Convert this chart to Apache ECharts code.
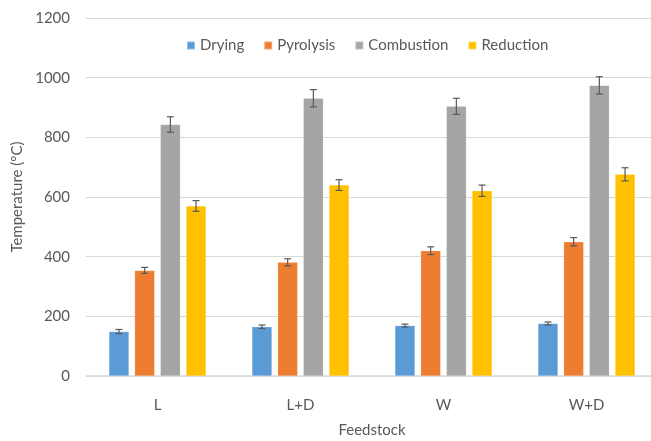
<!DOCTYPE html>
<html>
<head>
<meta charset="utf-8">
<script src="https://cdn.jsdelivr.net/npm/echarts@6/dist/echarts.min.js"></script>
<style>
html,body{margin:0;padding:0;background:#fff;}
#chart{width:651px;height:441px;}
</style>
</head>
<body>
<div id="chart"></div>
<script>
const categories = ['L', 'L+D', 'W', 'W+D'];
const seriesNames = ['Drying', 'Pyrolysis', 'Combustion', 'Reduction'];
const drying = [149, 165, 169, 176];
const pyrolysis = [354, 381, 420, 450];
const combustion = [843, 931, 904, 974];
const reduction = [570, 640, 621, 676];
const dryingErr = [7, 6, 5, 5];
const pyrolysisErr = [10, 12, 13, 14];
const combustionErr = [26, 29, 27, 29];
const reductionErr = [18, 18, 19, 22];
const yTicks = [0, 200, 400, 600, 800, 1000, 1200];

const colors = ['#5B9BD5', '#ED7D31', '#A5A5A5', '#FFC000'];
const values = [drying, pyrolysis, combustion, reduction];
const errors = [dryingErr, pyrolysisErr, combustionErr, reductionErr];

const BAR_W = 20, BAR_GAP = 5.7;
const FONT = 'Lato, "Open Sans", sans-serif';
const TXT = '#595959';

const chart = echarts.init(document.getElementById('chart'), null, {renderer: 'canvas'});

const barSeries = seriesNames.map((n, i) => ({
  name: n,
  type: 'bar',
  data: values[i],
  barWidth: BAR_W,
  barGap: (BAR_GAP / BAR_W * 100) + '%',
  itemStyle: {color: colors[i], borderColor: 'rgba(255,255,255,0.35)', borderWidth: 0.5},
  z: 2
}));

const errSeries = seriesNames.map((n, i) => ({
  name: n + ' error',
  type: 'custom',
  z: 5,
  silent: true,
  data: categories.map((c, k) => [k, values[i][k], errors[i][k]]),
  renderItem: function (params, api) {
    const x = api.value(0), v = api.value(1), e = api.value(2);
    const top = api.coord([x, v + e]);
    const bot = api.coord([x, v - e]);
    const cx = top[0] + (i - 1.5) * (BAR_W + BAR_GAP);
    const st = {stroke: '#595959', lineWidth: 1.2};
    const cap = 3.5;
    return {
      type: 'group',
      children: [
        {type: 'line', shape: {x1: cx, y1: top[1], x2: cx, y2: bot[1]}, style: st},
        {type: 'line', shape: {x1: cx - cap, y1: top[1], x2: cx + cap, y2: top[1]}, style: st},
        {type: 'line', shape: {x1: cx - cap, y1: bot[1], x2: cx + cap, y2: bot[1]}, style: st}
      ]
    };
  }
}));

chart.setOption({
  animation: false,
  backgroundColor: '#ffffff',
  grid: {left: 86, top: 18, width: 572, height: 358, containLabel: false, outerBoundsMode: 'none'},
  legend: {
    data: seriesNames,
    left: 181,
    top: 33,
    itemWidth: 8,
    itemHeight: 8,
    itemGap: 19,
    icon: 'rect',
    textStyle: {fontFamily: FONT, fontSize: 15, color: TXT}
  },
  xAxis: {
    type: 'category',
    data: categories,
    name: 'Feedstock',
    nameLocation: 'middle',
    nameGap: 47,
    nameTextStyle: {fontFamily: FONT, fontSize: 15, color: TXT},
    axisLine: {lineStyle: {color: '#d9d9d9', width: 1.5}},
    axisTick: {show: false},
    axisLabel: {fontFamily: FONT, fontSize: 15, color: TXT, margin: 22}
  },
  yAxis: {
    type: 'value',
    min: yTicks[0],
    max: yTicks[yTicks.length - 1],
    interval: 200,
    name: 'Temperature (°C)',
    nameLocation: 'middle',
    nameGap: 60,
    nameTextStyle: {fontFamily: FONT, fontSize: 15, color: TXT},
    axisLine: {show: false},
    axisTick: {show: false},
    axisLabel: {fontFamily: FONT, fontSize: 15, color: TXT, margin: 16, formatter: v => String(v)},
    splitLine: {lineStyle: {color: '#d9d9d9', width: 1}}
  },
  series: barSeries.concat(errSeries)
});
</script>
</body>
</html>
